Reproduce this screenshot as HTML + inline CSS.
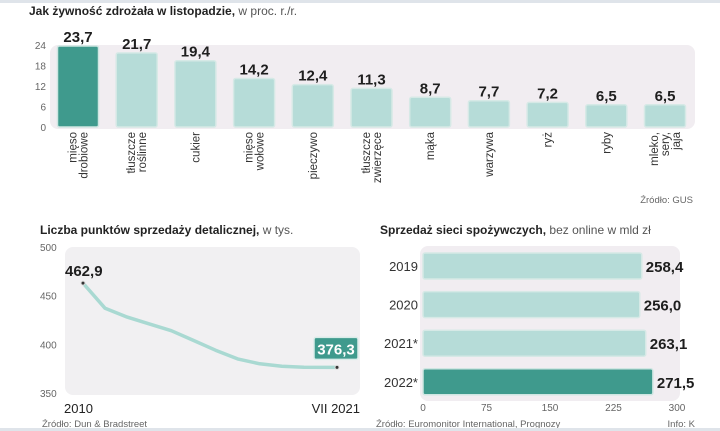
<!DOCTYPE html>
<html><head><meta charset="utf-8"><style>
body{margin:0;background:#fff;width:720px;height:431px;overflow:hidden;font-family:"Liberation Sans Narrow","Liberation Sans",sans-serif}
svg{display:block}
.t{font-weight:bold;font-size:12px;fill:#222}
.tn{font-weight:normal;fill:#555}
.ax{font-size:10px;fill:#666;font-family:"Liberation Sans",sans-serif}
.v{font-weight:bold;font-size:15px;fill:#1e1e1e}
.cat{font-size:11.5px;fill:#333;font-family:"Liberation Sans",sans-serif}
.src{font-size:9.5px;fill:#666;font-family:"Liberation Sans",sans-serif}
</style></head><body>
<svg id="c" width="720" height="431" xmlns="http://www.w3.org/2000/svg">
<rect x="0" y="0" width="720" height="3" fill="#dfe4ea"/>
<text x="29" y="15" class="t">Jak żywność zdrożała w listopadzie,<tspan class="tn"> w proc. r./r.</tspan></text>
<rect x="50" y="45" width="645" height="84" rx="8" fill="#f1edf1"/>
<g id="top"></g>
<text x="693" y="203" class="src" text-anchor="end">Źródło: GUS</text>

<text x="40" y="234" class="t">Liczba punktów sprzedaży detalicznej,<tspan class="tn"> w tys.</tspan></text>
<rect x="65" y="247" width="295" height="148" rx="8" fill="#f1f0f2"/>
<g id="line"></g>
<text x="42" y="427" class="src">Źródło: Dun &amp; Bradstreet</text>

<text x="380" y="234" class="t">Sprzedaż sieci spożywczych,<tspan class="tn"> bez online w mld zł</tspan></text>
<rect x="420" y="246" width="260" height="155" rx="8" fill="#f1edf1"/>
<g id="hbar"></g>
<text x="376" y="427" class="src">Źródło: Euromonitor International, Prognozy</text>
<text x="695" y="427" class="src" text-anchor="end">Info: K</text>
<rect x="0" y="428" width="720" height="3" fill="#dfe4ea"/>
</svg>
<script>
const topCats=[["mięso","drobiowe"],["tłuszcze","roślinne"],["cukier"],["mięso","wołowe"],["pieczywo"],["tłuszcze","zwierzęce"],["mąka"],["warzywa"],["ryż"],["ryby"],["mleko,","sery,","jaja"]];
const topVals=[23.7,21.7,19.4,14.2,12.4,11.3,8.7,7.7,7.2,6.5,6.5];
const topLabels=["23,7","21,7","19,4","14,2","12,4","11,3","8,7","7,7","7,2","6,5","6,5"];
const topTicks=[0,6,12,18,24];
const lineYears=[2010,2011,2012,2013,2014,2015,2016,2017,2018,2019,2020,2021.5];
const lineVals=[462.9,437,428,421,414,404,394,385,380,377.5,376.5,376.3];
const lineTicks=[350,400,450,500];
const hCats=["2019","2020","2021*","2022*"];
const hVals=[258.4,256.0,263.1,271.5];
const hLabels=["258,4","256,0","263,1","271,5"];
const hTicks=[0,75,150,225,300];
const NS="http://www.w3.org/2000/svg";
function mk(p,tag,a,txt){const e=document.createElementNS(NS,tag);for(const k in a)e.setAttribute(k,a[k]);if(txt!=null)e.textContent=txt;p.appendChild(e);return e;}
// top
const g1=document.getElementById('top');
const ty=v=>127-v*(82/24);
const tx=i=>78+i*58.7;
topTicks.forEach(t=>{const e=mk(g1,'text',{x:46,y:ty(t)+4,'text-anchor':'end',class:'ax'},t);

});
topVals.forEach((v,i)=>{
 const r=mk(g1,'rect',{x:tx(i)-20.5,y:ty(v),width:41,height:127-ty(v),rx:2,fill:i==0?'#3f9a8d':'#b6dcd8',stroke:i==0?'#cfe6e2':'#d6e9e6','stroke-width':1.5});
 
 
 const l=mk(g1,'text',{x:tx(i),y:ty(v)-4,'text-anchor':'middle',class:'v'},topLabels[i]);
 
 
 const n=topCats[i].length;
 topCats[i].forEach((s,j)=>{const c=mk(g1,'text',{class:'cat','text-anchor':'end',transform:`translate(${tx(i)+4+(j-(n-1)/2)*11},132) rotate(-90)`},s);
 
 });
});
// line
const g2=document.getElementById('line');
const ly=v=>247+(500-v)*(146/150);
const lx=y=>83+(y-2010)*(254/11.5);
lineTicks.forEach(t=>{const e=mk(g2,'text',{x:40,y:ly(t)+4,class:'ax'},t);

});
const pts=lineYears.map((y,i)=>lx(y).toFixed(1)+','+ly(lineVals[i]).toFixed(1)).join(' ');
const pl=mk(g2,'polyline',{points:pts,fill:'none',stroke:'#a9d9d2','stroke-width':3.5,'stroke-linejoin':'round','stroke-linecap':'round'});


const last=lineVals.length-1;
[0,last].forEach(i=>{const d=mk(g2,'circle',{cx:lx(lineYears[i]),cy:ly(lineVals[i]),r:2,fill:'#333',stroke:'#ddd','stroke-width':1});

});
const a=mk(g2,'text',{x:lx(lineYears[0])-18,y:ly(lineVals[0])-7,class:'v'},'462,9');


const bx=lx(lineYears[last])-23,by=ly(lineVals[last])-30;
const br=mk(g2,'rect',{x:bx,y:by,width:44,height:22,rx:2,fill:'#3f9a8d',stroke:'#d9ece9','stroke-width':1.5});


const bt=mk(g2,'text',{x:bx+22,y:by+17,'text-anchor':'middle',class:'v',fill:'#fff',style:'fill:#fff'},'376,3');


const x1=mk(g2,'text',{x:64,y:413,class:'v',style:'font-size:13px;font-weight:normal;fill:#222;font-family:Liberation Sans'},'2010');


const x2=mk(g2,'text',{x:360,y:413,'text-anchor':'end',class:'v',style:'font-size:13px;font-weight:normal;fill:#222;font-family:Liberation Sans'},'VII 2021');


// hbar
const g3=document.getElementById('hbar');
const hx=v=>423+v*(254/300);
const hy=i=>253+i*38.6;
hTicks.forEach(t=>{const e=mk(g3,'text',{x:hx(t),y:411,'text-anchor':'middle',class:'ax'},t);

});
hVals.forEach((v,i)=>{
 const r=mk(g3,'rect',{x:423,y:hy(i),width:hx(v)-423,height:26,rx:2,fill:i==3?'#3f9a8d':'#b6dcd8',stroke:i==3?'#cfe6e2':'#d6e9e6','stroke-width':1.5});
 
 
 const c=mk(g3,'text',{x:418,y:hy(i)+18,'text-anchor':'end',style:'font-size:13px;fill:#333;font-family:Liberation Sans'},hCats[i]);
 
 
 const l=mk(g3,'text',{x:hx(v)+4,y:hy(i)+19,class:'v'},hLabels[i]);
 
 
});
</script>
</body></html>
